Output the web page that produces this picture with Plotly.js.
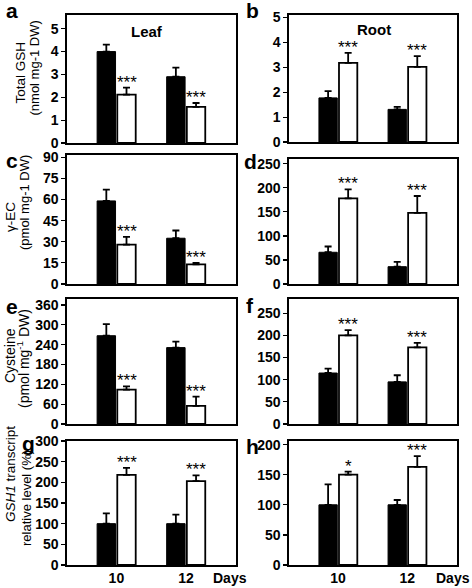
<!DOCTYPE html>
<html>
<head>
<meta charset="utf-8">
<script src="https://cdn.plot.ly/plotly-3.0.1.min.js"></script>
<style>html,body{margin:0;padding:0;background:#fff;}#chart{width:472px;height:588px;}</style>
</head>
<body>
<div id="chart"></div>
<script>
// ---- data ----
const days = ['10', '12'];
// a: Total GSH, leaf (nmol mg-1 DW)
const gshLeafCtrl = [4.0, 2.9];   const gshLeafCtrlErr = [0.3, 0.4];
const gshLeafTrt  = [2.12, 1.58]; const gshLeafTrtErr  = [0.3, 0.17];
// b: Total GSH, root
const gshRootCtrl = [1.77, 1.31]; const gshRootCtrlErr = [0.27, 0.1];
const gshRootTrt  = [3.18, 3.02]; const gshRootTrtErr  = [0.4, 0.43];
// c: gamma-EC, leaf (pmol mg-1 DW)
const ecLeafCtrl = [59, 32.5];    const ecLeafCtrlErr = [8, 5.5];
const ecLeafTrt  = [28, 14];      const ecLeafTrtErr  = [5.5, 1];
// d: gamma-EC, root
const ecRootCtrl = [66, 36];      const ecRootCtrlErr = [12, 10];
const ecRootTrt  = [178, 148];    const ecRootTrtErr  = [19, 35];
// e: Cysteine, leaf (pmol mg-1 DW)
const cysLeafCtrl = [267, 231];   const cysLeafCtrlErr = [35, 18];
const cysLeafTrt  = [104, 55];    const cysLeafTrtErr  = [10, 28];
// f: Cysteine, root
const cysRootCtrl = [115, 95];    const cysRootCtrlErr = [10, 15];
const cysRootTrt  = [200, 173];   const cysRootTrtErr  = [12, 10];
// g: GSH1 transcript relative level (%), leaf
const gsh1LeafCtrl = [100, 100];  const gsh1LeafCtrlErr = [25, 22];
const gsh1LeafTrt  = [218, 203];  const gsh1LeafTrtErr  = [17, 14];
// h: GSH1 transcript, root
const gsh1RootCtrl = [100, 100];  const gsh1RootCtrlErr = [34, 8];
const gsh1RootTrt  = [150, 163];  const gsh1RootTrtErr  = [5, 18];
// significance marks above the white bars
const sigA = ['***', '***']; const sigB = ['***', '***'];
const sigC = ['***', '***']; const sigD = ['***', '***'];
const sigE = ['***', '***']; const sigF = ['***', '***'];
const sigG = ['***', '***']; const sigH = ['*', '***'];
const panelLetters = ['a', 'b', 'c', 'd', 'e', 'f', 'g', 'h'];
const yTickStep = [1, 1, 15, 50, 60, 50, 50, 50];
const yMax = [5.6, 5.1, 91.6, 260, 378, 282, 300, 206];

// ---- layout helpers ----
const W = 472, H = 588;
const fx = p => p / W;
const fy = p => 1 - p / H;
const FONT = 'Liberation Sans, Arial, sans-serif';

const panels = [
  [gshLeafCtrl, gshLeafCtrlErr, gshLeafTrt, gshLeafTrtErr, sigA],
  [gshRootCtrl, gshRootCtrlErr, gshRootTrt, gshRootTrtErr, sigB],
  [ecLeafCtrl, ecLeafCtrlErr, ecLeafTrt, ecLeafTrtErr, sigC],
  [ecRootCtrl, ecRootCtrlErr, ecRootTrt, ecRootTrtErr, sigD],
  [cysLeafCtrl, cysLeafCtrlErr, cysLeafTrt, cysLeafTrtErr, sigE],
  [cysRootCtrl, cysRootCtrlErr, cysRootTrt, cysRootTrtErr, sigF],
  [gsh1LeafCtrl, gsh1LeafCtrlErr, gsh1LeafTrt, gsh1LeafTrtErr, sigG],
  [gsh1RootCtrl, gsh1RootCtrlErr, gsh1RootTrt, gsh1RootTrtErr, sigH]
];

// plot-area boxes in pixels [top, bottom]
const rowBox = [[15, 143], [15, 142], [155, 284], [159, 284], [299, 424], [299, 424], [441, 565], [441, 565]];
const colBox = [[67, 236], [289, 457]];
const letterPos = [[12, 11], [252, 11], [12, 160], [250, 161], [12, 306], [250, 305], [28, 444], [252, 446]];

const BW = 0.265, OFF_C = -0.277, OFF_T = 0.013;
const xs = days.map((d, i) => i);

const data = [];
const layout = {
  width: W, height: H,
  margin: {l: 0, r: 0, t: 0, b: 0},
  paper_bgcolor: '#fff', plot_bgcolor: '#fff',
  showlegend: false,
  barmode: 'overlay',
  font: {family: FONT, color: '#000'},
  annotations: []
};

panels.forEach((p, i) => {
  const n = i + 1;
  const xa = 'x' + (n === 1 ? '' : n), ya = 'y' + (n === 1 ? '' : n);
  const [ctrl, ctrlErr, trt, trtErr, sig] = p;
  const zeros = ctrl.map(() => 0);
  const eb = (arr) => ({type: 'data', array: arr, arrayminus: zeros, symmetric: false,
                        color: '#000', thickness: 1.8, width: 3.5, visible: true});
  data.push({type: 'bar', x: xs, y: ctrl, width: BW, offset: OFF_C, xaxis: xa, yaxis: ya,
             marker: {color: '#000', line: {color: '#000', width: 1}}, error_y: eb(ctrlErr)});
  data.push({type: 'bar', x: xs, y: trt, width: BW, offset: OFF_T, xaxis: xa, yaxis: ya,
             marker: {color: '#fff', line: {color: '#000', width: 1.8}}, error_y: eb(trtErr)});

  const col = i % 2, row = Math.floor(i / 2);
  const [top, bot] = rowBox[i];
  const [lft, rgt] = colBox[col];
  const xName = 'xaxis' + (n === 1 ? '' : n), yName = 'yaxis' + (n === 1 ? '' : n);
  layout[xName] = {
    domain: [fx(lft), fx(rgt)], anchor: ya, range: [-0.71, 1.72],
    showline: true, mirror: true, linecolor: '#000', linewidth: 1.6,
    showgrid: false, zeroline: false, ticks: '', fixedrange: true,
    tickvals: xs, ticktext: days, showticklabels: row === 3,
    tickfont: {family: FONT, size: 14, color: '#000', weight: 'bold'}
  };
  layout[yName] = {
    domain: [fy(bot), fy(top)], anchor: xa, range: [0, yMax[i]],
    dtick: yTickStep[i], tick0: 0,
    showline: true, mirror: true, linecolor: '#000', linewidth: 1.6,
    showgrid: false, zeroline: false, ticks: 'outside', ticklen: 4, tickwidth: 1.2, tickcolor: '#000',
    tickfont: {family: FONT, size: 14, color: '#000', weight: 'bold'}, fixedrange: true
  };
  // significance stars
  sig.forEach((s, k) => {
    layout.annotations.push({
      xref: xa, yref: ya, x: xs[k] + OFF_T + BW / 2, y: trt[k] + trtErr[k],
      text: s, showarrow: false, yanchor: 'bottom', xanchor: 'center', yshift: -6,
      font: {family: FONT, size: 17, color: '#000'}
    });
  });
  // panel letter
  layout.annotations.push({
    xref: 'paper', yref: 'paper', x: fx(letterPos[i][0]), y: fy(letterPos[i][1]),
    text: '<b>' + panelLetters[i] + '</b>', showarrow: false, xanchor: 'center', yanchor: 'middle',
    font: {family: FONT, size: 21, color: '#000'}
  });
});

// y-axis titles (left column), two lines each
const yTitles = [
  ['Total GSH', 20.5, 73, 13.5], ['(nmol mg-1 DW)', 33.5, 68, 13],
  ['γ-EC', 10, 217, 13.5], ['(pmol mg-1 DW)', 24, 203, 13],
  ['Cysteine', 10, 356, 14], ['(pmol mg<sup>-1</sup> DW)', 23, 359, 14],
  ['<i>GSH1</i> transcript', 10, 474, 13.5], ['relative level (%)', 26, 498, 13]
];
yTitles.forEach(([t, x, y, s]) => {
  layout.annotations.push({
    xref: 'paper', yref: 'paper', x: fx(x), y: fy(y), text: t, textangle: -90,
    showarrow: false, xanchor: 'center', yanchor: 'middle',
    font: {family: FONT, size: s, color: '#000'}
  });
});

// column headers
layout.annotations.push({xref: 'paper', yref: 'paper', x: fx(147), y: fy(32), text: '<b>Leaf</b>',
  showarrow: false, xanchor: 'center', yanchor: 'middle', font: {family: FONT, size: 15, color: '#000'}});
layout.annotations.push({xref: 'paper', yref: 'paper', x: fx(374), y: fy(30), text: '<b>Root</b>',
  showarrow: false, xanchor: 'center', yanchor: 'middle', font: {family: FONT, size: 15, color: '#000'}});
// "Days" labels
[[230, 578], [453, 578]].forEach(([x, y]) => {
  layout.annotations.push({xref: 'paper', yref: 'paper', x: fx(x), y: fy(y), text: '<b>Days</b>',
    showarrow: false, xanchor: 'center', yanchor: 'middle', font: {family: FONT, size: 14, color: '#000'}});
});

Plotly.newPlot('chart', data, layout, {displayModeBar: false, staticPlot: true});
</script>
</body>
</html>
